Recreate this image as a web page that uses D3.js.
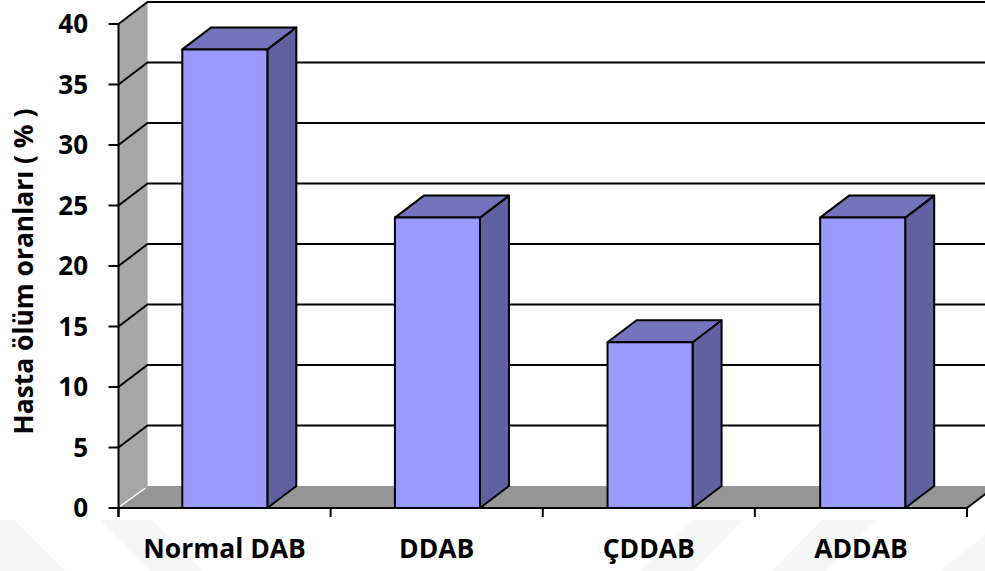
<!DOCTYPE html>
<html>
<head>
<meta charset="utf-8">
<script src="https://cdn.jsdelivr.net/npm/d3@7/dist/d3.min.js"></script>
<style>
html,body{margin:0;padding:0;background:#fff;overflow:hidden}
text{font-family:"Open Sans","Noto Sans",sans-serif;font-weight:700;fill:#000}
</style>
</head>
<body>
<svg id="chart" width="985" height="571"></svg>
<script>
// Death rate per patient group
const categories = ["Normal DAB", "DDAB", "ÇDDAB", "ADDAB"];
const rates = [37.9, 24, 13.7, 24];
const yTicks = [0, 5, 10, 15, 20, 25, 30, 35, 40];
const yTitle = "Hasta ölüm oranları ( % )";

const svg = d3.select("#chart");
const plotLeft = 118.5, plotRight = 967, base = 508, plotTop = 24;
const depthX = 29, depthY = -22;   // oblique projection offset of the 3D box

const x = d3.scaleBand().domain(categories).range([plotLeft, 969]).paddingInner(0.6).paddingOuter(0.3);
const xEdges = d3.scaleLinear().domain([0, categories.length]).range([plotLeft, plotRight]);
const y = d3.scaleLinear().domain([0, 40]).range([base, plotTop]);
const poly = pts => pts.map(p => p.join(",")).join(" ");

// Faint diagonal bands behind the chart
const bands = svg.append("g").attr("fill", "#f7f7f7");
[
  [[0, 520], [14, 520], [65, 571], [0, 571]],
  [[100, 520], [152, 520], [203, 571], [150, 571]],
  [[692, 520], [743, 520], [694, 571], [640, 571]],
  [[822, 520], [875, 520], [826, 571], [772, 571]],
  [[985, 535], [985, 571], [940, 571]]
].forEach(p => bands.append("polygon").attr("points", poly(p)));

// Left wall and floor
svg.append("polygon").attr("fill", "#a6a6a6")
  .attr("points", poly([[plotLeft, y(40)], [plotLeft + depthX, y(40) + depthY], [plotLeft + depthX, base + depthY], [plotLeft, base]]));
svg.append("polygon").attr("fill", "#969696")
  .attr("points", poly([[plotLeft, base], [plotLeft + depthX, base + depthY], [plotRight + depthX, base + depthY], [plotRight, base]]));

// Gridlines run along the wall and across the back
const grid = svg.append("g").attr("fill", "none").attr("stroke", "#000").attr("stroke-width", 2);
grid.selectAll("polyline").data(yTicks.filter(d => d > 0)).join("polyline")
  .attr("points", d => poly([[plotLeft, y(d)], [plotLeft + depthX, y(d) + depthY], [985, y(d) + depthY]]));

// Axes
const axisG = svg.append("g").attr("stroke", "#000").attr("stroke-width", 2);
axisG.append("line").attr("x1", plotLeft).attr("x2", plotLeft).attr("y1", y(40)).attr("y2", base + 9);
axisG.append("line").attr("x1", plotLeft).attr("x2", plotRight).attr("y1", base).attr("y2", base);
axisG.selectAll(".ytick").data(yTicks).join("line").attr("class", "ytick")
  .attr("x1", plotLeft - 10).attr("x2", plotLeft).attr("y1", d => y(d)).attr("y2", d => y(d));
axisG.selectAll(".xtick").data(d3.range(categories.length + 1)).join("line").attr("class", "xtick")
  .attr("x1", d => xEdges(d)).attr("x2", d => xEdges(d)).attr("y1", base).attr("y2", base + 9);
axisG.append("line").attr("x1", plotRight).attr("x2", plotRight + depthX).attr("y1", base).attr("y2", base + depthY);
svg.append("line").attr("x1", plotLeft + 2).attr("x2", plotLeft + depthX - 2).attr("y1", base - 2).attr("y2", base + depthY + 2)
  .attr("stroke", "#fff").attr("stroke-width", 1.5);

// Bars: side, top, then front face
const bars = svg.append("g").attr("stroke", "#000").attr("stroke-width", 2).attr("stroke-linejoin", "round")
  .selectAll("g").data(categories.map((c, i) => ({c, v: rates[i]}))).join("g");
bars.append("polygon").attr("fill", "#6161a1")
  .attr("points", d => {
    const r = x(d.c) + x.bandwidth(), t = y(d.v);
    return poly([[r, t], [r + depthX, t + depthY], [r + depthX, base + depthY], [r, base]]);
  });
bars.append("polygon").attr("fill", "#7474bd")
  .attr("points", d => {
    const l = x(d.c), r = l + x.bandwidth(), t = y(d.v);
    return poly([[l, t], [l + depthX, t + depthY], [r + depthX, t + depthY], [r, t]]);
  });
bars.append("rect").attr("fill", "#9999ff")
  .attr("x", d => x(d.c)).attr("width", x.bandwidth())
  .attr("y", d => y(d.v)).attr("height", d => base - y(d.v));

// Labels
svg.append("g").selectAll("text").data(yTicks).join("text")
  .attr("x", 88).attr("y", d => y(d)).attr("dy", "0.36em").attr("text-anchor", "end")
  .attr("font-size", 26).text(d => d);
svg.append("g").selectAll("text").data(categories).join("text")
  .attr("x", (d, i) => xEdges(i + 0.5)).attr("y", 558).attr("text-anchor", "middle")
  .attr("font-size", 26.5).text(d => d);
svg.append("text").attr("transform", "translate(33,271.5) rotate(-90)")
  .attr("text-anchor", "middle").attr("font-size", 26.4).text(yTitle);
</script>
</body>
</html>
